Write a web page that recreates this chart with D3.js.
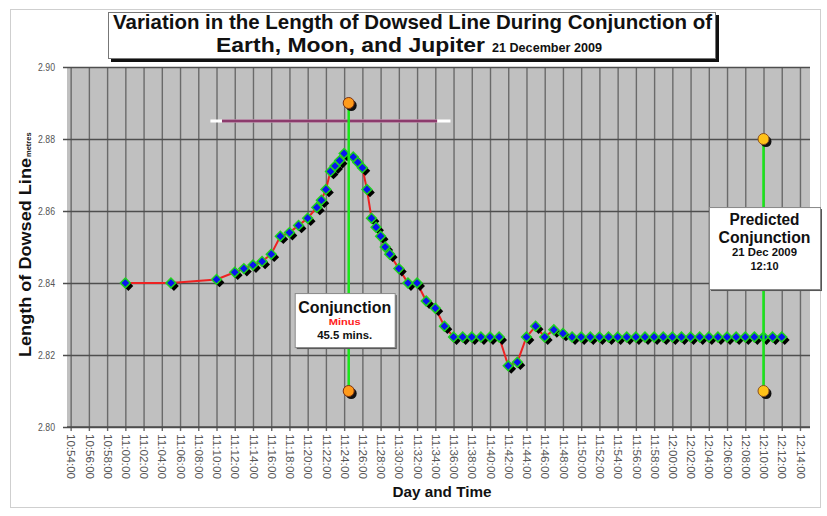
<!doctype html>
<html lang="en">
<head>
  <meta charset="UTF-8">
  <title>Dowsed Line Conjunction</title>
  <script src="https://d3js.org/d3.v7.min.js"></script>
  <style>
    body { margin: 0; background: #fff; }
    text { font-family: "Liberation Sans", Arial, sans-serif; }
  </style>
</head>
<body>
  <div id="chart"></div>
  <script type="text/javascript">
    // readings: time of day and length of the dowsed line (metres)
    var times = ["11:00:00","11:05:00","11:10:00","11:12:00","11:13:00","11:14:00","11:15:00","11:16:00",
      "11:17:00","11:18:00","11:19:00","11:20:00","11:21:00","11:21:30","11:22:00","11:22:30","11:23:00",
      "11:23:30","11:24:00","11:25:00","11:25:30","11:26:00","11:26:30","11:27:00","11:27:30","11:28:00",
      "11:28:30","11:29:00","11:30:00","11:31:00","11:32:00","11:33:00","11:34:00","11:35:00","11:36:00",
      "11:37:00","11:38:00","11:39:00","11:40:00","11:41:00","11:42:00","11:43:00","11:44:00","11:45:00",
      "11:46:00","11:47:00","11:48:00","11:49:00","11:50:00","11:51:00","11:52:00","11:53:00","11:54:00",
      "11:55:00","11:56:00","11:57:00","11:58:00","11:59:00","12:00:00","12:01:00","12:02:00","12:03:00",
      "12:04:00","12:05:00","12:06:00","12:07:00","12:08:00","12:09:00","12:10:00","12:11:00","12:12:00"];
    var lengths = [2.840,2.840,2.841,2.843,2.844,2.845,2.846,2.848,
      2.853,2.854,2.856,2.858,2.861,2.863,2.866,2.871,2.8725,
      2.874,2.876,2.875,2.8735,2.872,2.866,2.858,2.8555,2.853,
      2.850,2.848,2.844,2.840,2.840,2.835,2.833,2.828,2.825,
      2.825,2.825,2.825,2.825,2.825,2.817,2.818,2.825,2.828,
      2.825,2.827,2.826,2.825,2.825,2.825,2.825,2.825,2.825,
      2.825,2.825,2.825,2.825,2.825,2.825,2.825,2.825,2.825,
      2.825,2.825,2.825,2.825,2.825,2.825,2.825,2.825,2.825];

    var xTickLabels = ["10:54:00","10:56:00","10:58:00","11:00:00","11:02:00","11:04:00","11:06:00",
      "11:08:00","11:10:00","11:12:00","11:14:00","11:16:00","11:18:00","11:20:00","11:22:00","11:24:00",
      "11:26:00","11:28:00","11:30:00","11:32:00","11:34:00","11:36:00","11:38:00","11:40:00","11:42:00",
      "11:44:00","11:46:00","11:48:00","11:50:00","11:52:00","11:54:00","11:56:00","11:58:00","12:00:00",
      "12:02:00","12:04:00","12:06:00","12:08:00","12:10:00","12:12:00","12:14:00"];
    var yTicks = [2.80, 2.82, 2.84, 2.86, 2.88, 2.90];

    // conjunction markers
    var conjTime = "11:24:30";
    var conjEnds = [2.89, 2.81];
    var predTime = "12:10:00";
    var predEnds = [2.88, 2.81];
    // horizontal span bar
    var spanOuter = ["11:09:20", "11:35:40"];
    var spanInner = ["11:10:36", "11:34:12"];
    var spanValue = 2.885;

    var parse = d3.timeParse("%H:%M:%S");
    var data = times.map(function(t, i) { return { t: parse(t), v: lengths[i] }; });

    var width = 827, height = 516;
    var plotL = 67, plotR = 810, plotT = 67, plotB = 427;

    var x = d3.scaleTime()
      .domain([parse("10:53:36"), parse("12:15:06")])
      .range([plotL, plotR]);
    var y = d3.scaleLinear()
      .domain([2.80, 2.90])
      .range([plotB, plotT]);

    var svg = d3.select("#chart").append("svg")
      .attr("width", width)
      .attr("height", height);

    // outer frame
    svg.append("rect")
      .attr("x", 10.5).attr("y", 9.5)
      .attr("width", 810).attr("height", 498)
      .attr("fill", "#fff").attr("stroke", "#cfcfcf");

    // plot area
    svg.append("rect")
      .attr("x", plotL).attr("y", plotT)
      .attr("width", plotR - plotL).attr("height", plotB - plotT)
      .attr("fill", "#c0c0c0");

    // x axis with gridlines
    var xAxis = d3.axisBottom(x)
      .tickValues(xTickLabels.map(parse))
      .tickFormat(d3.timeFormat("%H:%M:%S"))
      .tickSize(-(plotB - plotT) - 4)
      .tickPadding(4);
    var gx = svg.append("g")
      .attr("transform", "translate(0," + (plotB + 4) + ")")
      .call(xAxis);
    gx.select(".domain").remove();
    gx.selectAll(".tick line").attr("stroke", "#6a6a6a").attr("stroke-width", 1.4);
    gx.selectAll(".tick text")
      .attr("transform", "rotate(90)")
      .attr("x", 3).attr("y", 0).attr("dy", "0.35em")
      .attr("text-anchor", "start")
      .attr("fill", "#555")
      .attr("font-size", 11)
      .attr("textLength", 45)
      .attr("lengthAdjust", "spacingAndGlyphs");

    // y axis with gridlines
    var yAxis = d3.axisLeft(y)
      .tickValues(yTicks)
      .tickFormat(d3.format(".2f"))
      .tickSize(-(plotR - plotL) - 4)
      .tickPadding(8);
    var gy = svg.append("g")
      .attr("transform", "translate(" + (plotL - 4) + ",0)")
      .call(yAxis);
    gy.select(".domain").remove();
    gy.selectAll(".tick line").attr("stroke", "#4e4e4e").attr("stroke-width", 1.6);
    gy.selectAll(".tick text")
      .attr("fill", "#555")
      .attr("font-size", 10)
      .attr("textLength", 17)
      .attr("lengthAdjust", "spacingAndGlyphs");

    // plot edge
    svg.append("line")
      .attr("x1", plotL).attr("x2", plotR).attr("y1", plotB).attr("y2", plotB)
      .attr("stroke", "#4e4e4e").attr("stroke-width", 1.6);

    // span bar
    svg.append("line")
      .attr("x1", x(parse(spanOuter[0]))).attr("x2", x(parse(spanOuter[1])))
      .attr("y1", y(spanValue)).attr("y2", y(spanValue))
      .attr("stroke", "#ffffff").attr("stroke-width", 3);
    svg.append("line")
      .attr("x1", x(parse(spanInner[0]))).attr("x2", x(parse(spanInner[1])))
      .attr("y1", y(spanValue)).attr("y2", y(spanValue))
      .attr("stroke", "#8c3b6c").attr("stroke-width", 3);

    // vertical conjunction lines with end dots
    function marker(t, ends, fill, edge) {
      var xt = x(parse(t));
      svg.append("line")
        .attr("x1", xt).attr("x2", xt)
        .attr("y1", y(ends[0])).attr("y2", y(ends[1]))
        .attr("stroke", "#19e619").attr("stroke-width", 2.5);
      ends.forEach(function(v) {
        svg.append("circle")
          .attr("cx", xt + 2.5).attr("cy", y(v) + 2.5).attr("r", 5.5)
          .attr("fill", "#111");
        svg.append("circle")
          .attr("cx", xt).attr("cy", y(v)).attr("r", 5.5)
          .attr("fill", fill).attr("stroke", edge).attr("stroke-width", 1);
      });
    }

    // data line
    var line = d3.line()
      .x(function(d) { return x(d.t); })
      .y(function(d) { return y(d.v); });
    svg.append("path")
      .datum(data)
      .attr("d", line)
      .attr("fill", "none")
      .attr("stroke", "#ee2222")
      .attr("stroke-width", 2);

    var diamond = d3.symbol().type(d3.symbolSquare).size(48);
    // shadows
    svg.append("g").selectAll("path")
      .data(data)
      .enter()
      .append("path")
        .attr("d", diamond)
        .attr("transform", function(d) { return "translate(" + (x(d.t) + 3) + "," + (y(d.v) + 3) + ") rotate(45)"; })
        .attr("fill", "#000");
    svg.append("g").selectAll("path")
      .data(data)
      .enter()
      .append("path")
        .attr("d", diamond)
        .attr("transform", function(d) { return "translate(" + x(d.t) + "," + y(d.v) + ") rotate(45)"; })
        .attr("fill", "#0a14f0")
        .attr("stroke", "#1ed21e")
        .attr("stroke-width", 1.5);

    marker(conjTime, conjEnds, "#ff9a1a", "#7a3010");
    marker(predTime, predEnds, "#ffc218", "#8a5020");

    // annotation boxes
    function box(cx, ty, w, h, lines) {
      var g = svg.append("g");
      g.append("rect")
        .attr("x", cx - w / 2 + 2).attr("y", ty + 2)
        .attr("width", w).attr("height", h)
        .attr("fill", "#555");
      g.append("rect")
        .attr("x", cx - w / 2 + 0.5).attr("y", ty + 0.5)
        .attr("width", w).attr("height", h)
        .attr("fill", "#fff").attr("stroke", "#888");
      lines.forEach(function(l) {
        g.append("text")
          .attr("x", cx).attr("y", ty + l.dy)
          .attr("text-anchor", "middle")
          .attr("font-size", l.size)
          .attr("font-weight", "bold")
          .attr("fill", l.color || "#111")
          .attr("textLength", l.len)
          .attr("lengthAdjust", "spacingAndGlyphs")
          .text(l.text);
      });
    }
    box(x(parse(conjTime)) - 4, y(2.8372), 100, 54, [
      { text: "Conjunction", size: 16, dy: 20, len: 93 },
      { text: "Minus", size: 9, dy: 32, len: 32, color: "#ff2020" },
      { text: "45.5 mins.", size: 10, dy: 46, len: 55 }
    ]);
    box(x(parse(predTime)) + 1, y(2.8611), 111, 82, [
      { text: "Predicted", size: 16, dy: 18, len: 70 },
      { text: "Conjunction", size: 16, dy: 36, len: 92 },
      { text: "21 Dec 2009", size: 10, dy: 49, len: 65 },
      { text: "12:10", size: 10, dy: 63, len: 28 }
    ]);

    // title
    svg.append("rect")
      .attr("x", 111).attr("y", 15)
      .attr("width", 608).attr("height", 47)
      .attr("fill", "#111");
    svg.append("rect")
      .attr("x", 108.5).attr("y", 12.5)
      .attr("width", 607).attr("height", 46)
      .attr("fill", "#fff").attr("stroke", "#777");
    svg.append("text")
      .attr("x", 113).attr("y", 29)
      .attr("font-size", 20.5).attr("font-weight", "bold").attr("fill", "#111")
      .attr("textLength", 599).attr("lengthAdjust", "spacingAndGlyphs")
      .text("Variation in the Length of Dowsed Line During Conjunction of");
    svg.append("text")
      .attr("x", 216).attr("y", 52)
      .attr("font-size", 21).attr("font-weight", "bold").attr("fill", "#111")
      .attr("textLength", 269).attr("lengthAdjust", "spacingAndGlyphs")
      .text("Earth, Moon, and Jupiter");
    svg.append("text")
      .attr("x", 492).attr("y", 52)
      .attr("font-size", 13).attr("font-weight", "bold").attr("fill", "#111")
      .attr("textLength", 110).attr("lengthAdjust", "spacingAndGlyphs")
      .text("21 December 2009");

    // axis titles
    svg.append("text")
      .attr("transform", "translate(31,357) rotate(-90)")
      .attr("text-anchor", "start")
      .attr("font-size", 17).attr("font-weight", "bold").attr("fill", "#111")
      .attr("textLength", 199).attr("lengthAdjust", "spacingAndGlyphs")
      .text("Length of Dowsed Line");
    svg.append("text")
      .attr("transform", "translate(31,157) rotate(-90)")
      .attr("text-anchor", "start")
      .attr("font-size", 7.5).attr("font-weight", "bold").attr("fill", "#111")
      .text("metres");

    svg.append("text")
      .attr("x", 442).attr("y", 497)
      .attr("text-anchor", "middle")
      .attr("font-size", 14).attr("font-weight", "bold").attr("fill", "#111")
      .attr("textLength", 99).attr("lengthAdjust", "spacingAndGlyphs")
      .text("Day and Time");
  </script>
</body>
</html>
